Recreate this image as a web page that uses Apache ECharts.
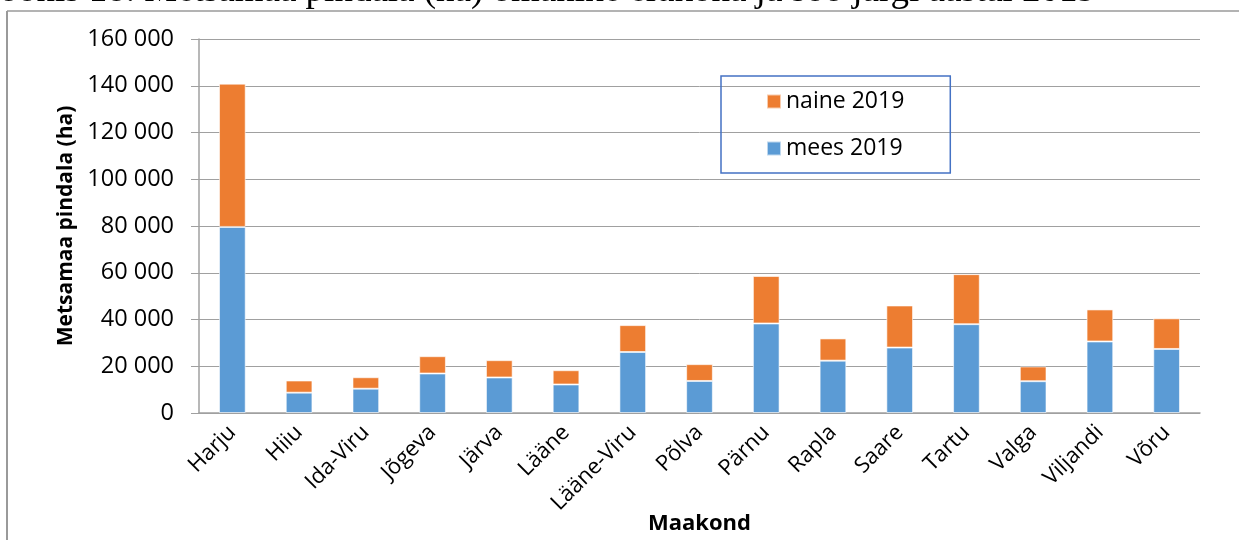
<!DOCTYPE html>
<html>
<head>
<meta charset="utf-8">
<script src="https://cdn.jsdelivr.net/npm/echarts@6/dist/echarts.min.js"></script>
<style>
html,body{margin:0;padding:0;background:#fff;}
#chart{width:1239px;height:540px;}
</style>
</head>
<body>
<div id="chart"></div>
<script>
const categories = ['Harju','Hiiu','Ida-Viru','Jõgeva','Järva','Lääne','Lääne-Viru','Põlva','Pärnu','Rapla','Saare','Tartu','Valga','Viljandi','Võru'];
const mees2019 = [79600, 8700, 10400, 16900, 15200, 12200, 26100, 13700, 38300, 22400, 28000, 38000, 13600, 30600, 27400];
const totals2019 = [140900, 13900, 15300, 24300, 22600, 18300, 37600, 20900, 58600, 31900, 46000, 59400, 19900, 44300, 40500];
const naine2019 = totals2019.map((t, i) => t - mees2019[i]);
const yTicks = { min: 0, max: 160000, interval: 20000 };
const captionText = 'Joonis 18. Metsamaa pindala (ha) omanike elukoha ja soo järgi aastal 2019';

const chart = echarts.init(document.getElementById('chart'));
const fmt = v => String(v).replace(/\B(?=(\d{3})+(?!\d))/g, ' ');
chart.setOption({
  animation: false,
  backgroundColor: '#fff',
  textStyle: { fontFamily: 'Open Sans' },
  graphic: [
    { type: 'text', x: -15, y: -27, style: { text: captionText, font: '37px "Liberation Serif"', fill: '#000' } },
    { type: 'rect', shape: { x: 0, y: 11, width: 1239, height: 529 }, style: { fill: '#fff' }, z: -10 },
    { type: 'line', shape: { x1: 7, y1: 11, x2: 1239, y2: 11 }, style: { stroke: '#9a9a9a', lineWidth: 1.5 } },
    { type: 'line', shape: { x1: 7, y1: 11, x2: 7, y2: 540 }, style: { stroke: '#9a9a9a', lineWidth: 2 } }
  ],
  grid: { left: 199, right: 39, top: 39, bottom: 127, outerBoundsMode: 'none', containLabel: false },
  legend: {
    orient: 'vertical',
    left: 721, top: 76,
    data: ['naine 2019', 'mees 2019'],
    itemWidth: 14, itemHeight: 14,
    itemGap: 24,
    padding: [14, 46, 13, 45],
    borderColor: '#4472C4', borderWidth: 1.5,
    icon: 'rect',
    textStyle: { fontSize: 23, color: '#000', fontFamily: 'Open Sans' }
  },
  xAxis: {
    type: 'category',
    data: categories,
    name: 'Maakond',
    nameLocation: 'middle',
    nameGap: 100,
    nameMoveOverlap: false,
    nameTextStyle: { fontSize: 22, fontWeight: 'bold', color: '#000' },
    axisLine: { lineStyle: { color: '#a0a0a0', width: 1.5 } },
    axisTick: { length: 8, lineStyle: { color: '#a0a0a0' } },
    axisLabel: { rotate: 45, fontSize: 22, color: '#000', margin: 16 }
  },
  yAxis: {
    type: 'value',
    min: yTicks.min, max: yTicks.max, interval: yTicks.interval,
    name: 'Metsamaa pindala (ha)',
    nameLocation: 'middle',
    nameGap: 122,
    nameMoveOverlap: false,
    nameTextStyle: { fontSize: 21, fontWeight: 'bold', color: '#000' },
    axisLine: { show: true, lineStyle: { color: '#a0a0a0', width: 1.5 } },
    axisTick: { show: true, length: 8, lineStyle: { color: '#a0a0a0' } },
    splitLine: { lineStyle: { color: '#a0a0a0', width: 1 } },
    axisLabel: { fontSize: 23.5, color: '#000', margin: 25, formatter: fmt }
  },
  series: [
    { name: 'mees 2019', type: 'bar', stack: 'total', data: mees2019, barWidth: '40%',
      itemStyle: { color: '#5B9BD5', borderColor: 'rgba(255,255,255,0.6)', borderWidth: 1 } },
    { name: 'naine 2019', type: 'bar', stack: 'total', data: naine2019, barWidth: '40%',
      itemStyle: { color: '#ED7D31', borderColor: 'rgba(255,255,255,0.6)', borderWidth: 1 } }
  ]
});
</script>
</body>
</html>
